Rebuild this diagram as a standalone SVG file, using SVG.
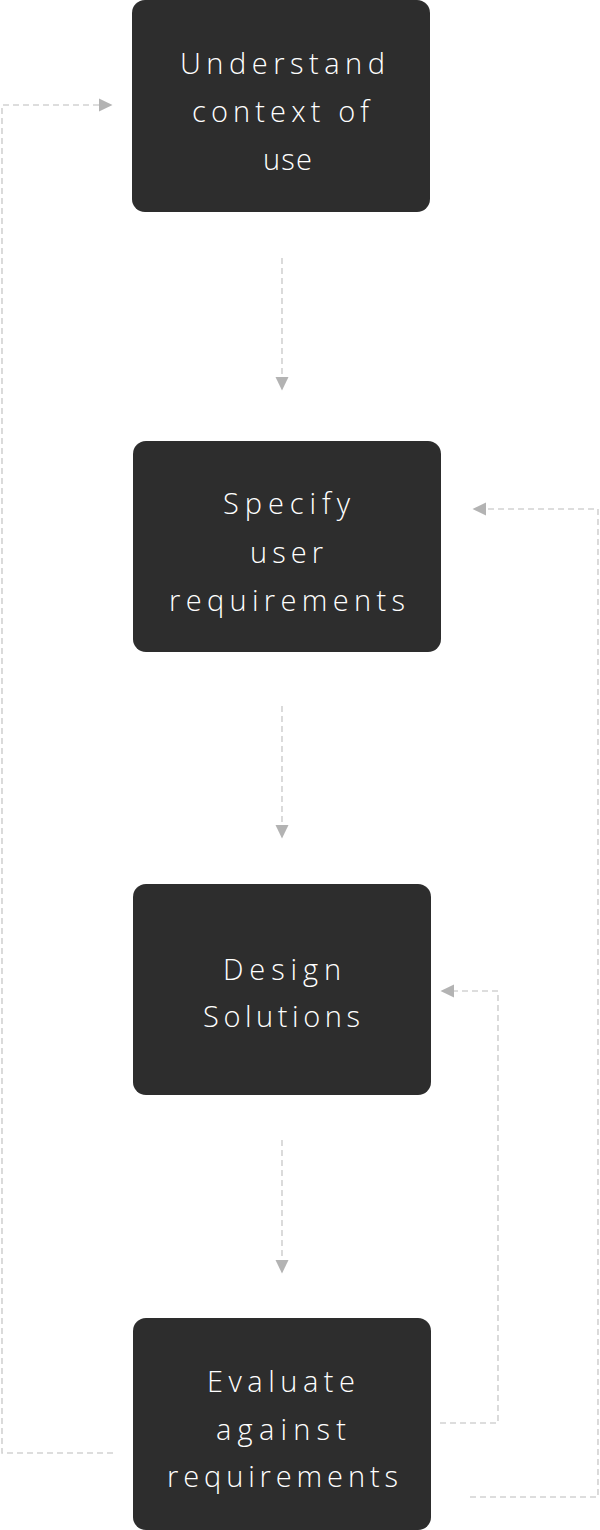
<svg xmlns="http://www.w3.org/2000/svg" width="600" height="1530" viewBox="0 0 600 1530">
<style>
.node{fill:#2d2d2d}
.lbl{fill:#ffffff;font-family:"Open Sans",Lato,"Liberation Sans",sans-serif;font-weight:300;font-size:29px;font-variant-ligatures:none}
.dash{fill:none;stroke:#d2d2d2;stroke-width:1.6;stroke-dasharray:6 4}
.head{fill:#b3b3b3}
</style>
<rect width="600" height="1530" fill="#ffffff"/>
<g id="connectors">
<path class="dash" d="M282 258V377"/>
<path class="head" d="M275.5 377H288.5L282 390.5Z"/>
<path class="dash" d="M282 706V825"/>
<path class="head" d="M275.5 825H288.5L282 838.5Z"/>
<path class="dash" d="M282 1140V1260"/>
<path class="head" d="M275.5 1260H288.5L282 1273.5Z"/>
<path class="dash" d="M113 1453H2V105H99"/>
<path class="head" d="M99 98.5V111.5L112.5 105Z"/>
<path class="dash" d="M470 1497H598V509H486"/>
<path class="head" d="M486 502.5V515.5L472.5 509Z"/>
<path class="dash" d="M440 1423H498V991H454"/>
<path class="head" d="M454 984.5V997.5L440.5 991Z"/>
</g>
<g id="node1">
<rect class="node" x="132" y="0" width="298" height="212" rx="13"/>
<text class="lbl" x="180" y="74" textLength="205" lengthAdjust="spacing">Understand</text>
<text class="lbl" x="192" y="122" textLength="177" lengthAdjust="spacing">context of</text>
<text class="lbl" x="263" y="170" textLength="49" lengthAdjust="spacing">use</text>
</g>
<g id="node2">
<rect class="node" x="133" y="441" width="308" height="211" rx="13"/>
<text class="lbl" x="223" y="514" textLength="127" lengthAdjust="spacing">Specify</text>
<text class="lbl" x="250" y="563" textLength="73" lengthAdjust="spacing">user</text>
<text class="lbl" x="169" y="611" textLength="236" lengthAdjust="spacing">requirements</text>
</g>
<g id="node3">
<rect class="node" x="133" y="884" width="298" height="211" rx="13"/>
<text class="lbl" x="223" y="980" textLength="118" lengthAdjust="spacing">Design</text>
<text class="lbl" x="203" y="1027" textLength="157" lengthAdjust="spacing">Solutions</text>
</g>
<g id="node4">
<rect class="node" x="133" y="1318" width="298" height="212" rx="13"/>
<text class="lbl" x="207" y="1392" textLength="148" lengthAdjust="spacing">Evaluate</text>
<text class="lbl" x="216" y="1440" textLength="130" lengthAdjust="spacing">against</text>
<text class="lbl" x="167" y="1487" textLength="231" lengthAdjust="spacing">requirements</text>
</g>
</svg>
